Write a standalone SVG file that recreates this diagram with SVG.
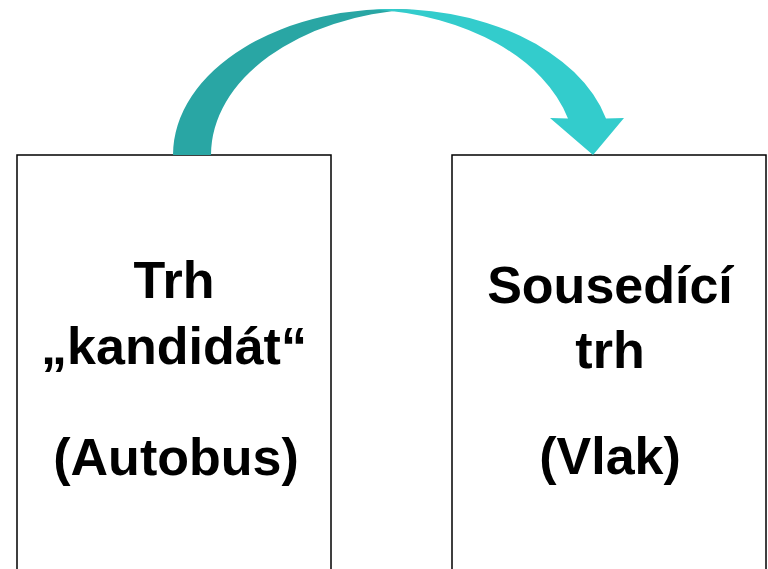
<svg xmlns="http://www.w3.org/2000/svg" width="768" height="569" viewBox="0 0 768 569">
<style>
.box{fill:#ffffff;stroke:#000000;stroke-width:1.5}
.t{font-family:"Liberation Sans",Arial,sans-serif;font-weight:bold;font-size:52px;fill:#000000;text-anchor:middle}
.back{fill:#29a6a4}
.front{fill:#33cccc}
</style>
<rect width="768" height="569" fill="#ffffff"/>
<g id="node-kandidat">
<rect class="box" x="17" y="155" width="314" height="430"/>
<text class="t" x="174" y="298">Trh</text>
<text class="t" x="174" y="364">„kandidát“</text>
<text class="t" x="176" y="475">(Autobus)</text>
</g>
<g id="node-sousedici">
<rect class="box" x="452" y="155" width="314" height="430"/>
<text class="t" x="610" y="303">Sousedící</text>
<text class="t" x="610" y="368">trh</text>
<text class="t" x="610" y="474">(Vlak)</text>
</g>
<g id="connectors">
<path class="back" d="M173,155 A220,146 0 0 1 412,9.55 A220,146 0 0 0 211,155 Z"/>
<path class="front" d="M374,9.55 A220,146 0 0 1 606,118.5 L624,118 L593,155 L550,118 L568,118.5 A220,146 0 0 0 374,9.55 Z"/>
</g>
</svg>
